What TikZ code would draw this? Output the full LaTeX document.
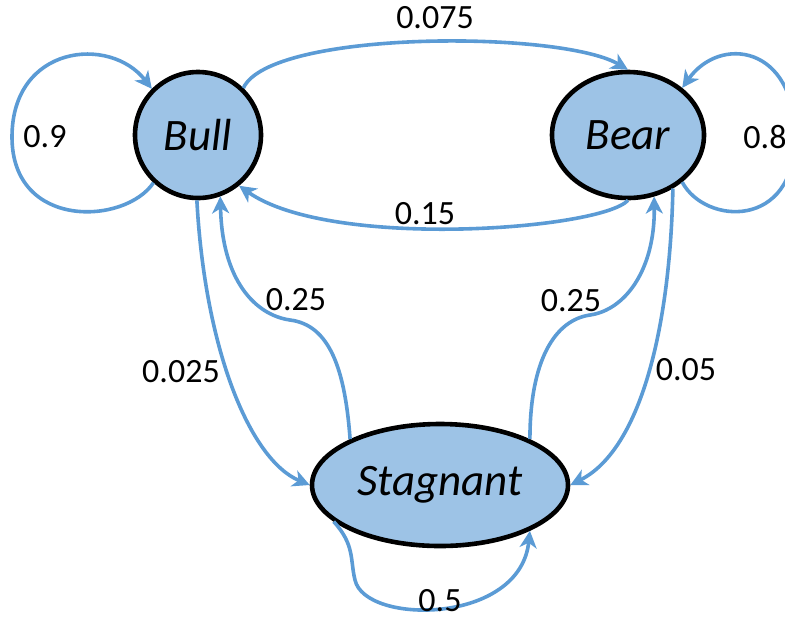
\documentclass[tikz,border=0pt]{standalone}
\usepackage{fontspec}
\setmainfont{Carlito}
\usetikzlibrary{shapes.geometric}
\usetikzlibrary{arrows.meta}
\definecolor{statefill}{HTML}{9DC3E6}
\definecolor{arrowblue}{HTML}{5B9BD5}
\tikzset{
  state/.style={ellipse, draw=black, line width=2.3pt, fill=statefill, inner sep=0pt,
    font=\fontsize{22.5}{26}\selectfont\itshape},
  trans/.style={draw=arrowblue, line width=1.8pt,
    -{Stealth[length=8.5pt, width=8.5pt, inset=2.5pt]}},
  prob/.style={inner sep=0pt, font=\fontsize{17}{20}\selectfont}
}

\begin{document}
\begin{tikzpicture}[x=0.5pt, y=-0.5pt]
\useasboundingbox (0,0) rectangle (785,622);
% states
\node[state, minimum width=63pt, minimum height=63pt] (bull) at (198,135) {Bull};
\node[state, minimum width=76pt, minimum height=63pt] (bear) at (628,135) {Bear};
\node[state, minimum width=128pt, minimum height=61pt] (stag) at (440,485) {Stagnant};
% transitions
\draw[trans] (bull.-133) .. controls (125,225) and (12,230) .. (12,137)
  .. controls (12,45) and (110,35) .. (bull.135);
\draw[trans] (bear.-41) .. controls (705,225) and (795,230) .. (795,137)
  .. controls (795,45) and (720,35) .. (bear.41);
\draw[trans] (bull.46) .. controls (270,30) and (560,30) .. (bear.90);
\draw[trans] (bear.-90) .. controls (600,230) and (330,250) .. (bull.-51);
\draw[trans] (bull.-91) .. controls (205,350) and (250,460) .. (stag.180);
\draw[trans] (stag.153) .. controls (345,370) and (330,325) .. (290,320)
  .. controls (255,315) and (222,280) .. (bull.-70);
\draw[trans] (stag.27) .. controls (530,360) and (555,320) .. (590,315)
  .. controls (625,310) and (655,270) .. (bear.-67);
\draw[trans] (bear.-50) .. controls (670,330) and (640,450) .. (stag.0);
\draw[trans] (stag.-161) .. controls (355,545) and (350,560) .. (355,580)
  .. controls (365,625) and (520,625) .. (stag.-27);
% probabilities
\node[prob] (p-bull) at (45,137) {0.9};
\node[prob] (p-bear) at (765,137) {0.8};
\node[prob] (p-bullbear) at (435,18) {0.075};
\node[prob] (p-bearbull) at (425,214) {0.15};
\node[prob] (p-bullstag) at (181,372) {0.025};
\node[prob] (p-stagbull) at (296,300) {0.25};
\node[prob] (p-stagbear) at (571,301) {0.25};
\node[prob] (p-bearstag) at (686,370) {0.05};
\node[prob] (p-stag) at (440,601) {0.5};
\end{tikzpicture}
\end{document}
